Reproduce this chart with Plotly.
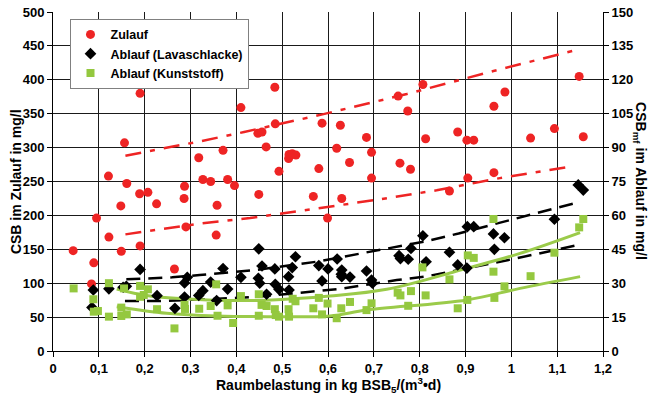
import plotly.graph_objects as go

# ---------------- data ----------------
zulauf_x = [0.044, 0.084, 0.089, 0.095, 0.121, 0.122, 0.148, 0.149, 0.156, 0.161, 0.19, 0.19,
            0.189, 0.207, 0.226, 0.265, 0.286, 0.287, 0.29, 0.318, 0.327, 0.344, 0.356, 0.358,
            0.371, 0.381, 0.396, 0.41, 0.447, 0.449, 0.456, 0.465, 0.484, 0.485, 0.493, 0.514,
            0.515, 0.522, 0.53, 0.568, 0.58, 0.587, 0.599, 0.619, 0.627, 0.63, 0.647, 0.684,
            0.695, 0.695, 0.753, 0.757, 0.774, 0.78, 0.807, 0.813, 0.865, 0.883, 0.903, 0.905,
            0.918, 0.962, 0.962, 0.986, 1.042, 1.094, 1.148, 1.157]
zulauf_y = [148, 99, 130, 196, 258, 168, 214, 147, 307, 247, 155, 380,
            232, 234, 217, 121, 225, 243, 183, 285, 253, 250, 171, 215,
            296, 253, 244, 359, 321, 231, 323, 301, 389, 335, 265, 284,
            290, 291, 289, 228, 269, 336, 196, 299, 333, 225, 278, 315,
            293, 255, 376, 277, 354, 268, 393, 313, 236, 323, 311, 255,
            311, 361, 263, 382, 314, 328, 405, 316]

lava_x = [0.088, 0.085, 0.122, 0.153, 0.16, 0.19, 0.227, 0.266, 0.287, 0.293, 0.287, 0.318,
          0.327, 0.344, 0.357, 0.371, 0.381, 0.41, 0.448, 0.451, 0.449, 0.456, 0.466, 0.484,
          0.485, 0.493, 0.514, 0.515, 0.522, 0.529, 0.58, 0.587, 0.6, 0.62, 0.63, 0.629,
          0.63, 0.648, 0.684, 0.695, 0.697, 0.755, 0.758, 0.775, 0.781, 0.807, 0.814, 0.865,
          0.883, 0.903, 0.904, 0.918, 0.961, 0.963, 0.985, 1.094, 1.146, 1.157]
lava_y = [27.0, 19.3, 27.5, 28.2, 28.6, 36.1, 24.5, 18.9, 30.1, 32.6, 23.9, 24.6,
          26.7, 30.5, 22.3, 36.5, 27.4, 32.6, 32.2, 30.0, 45.2, 37.6, 25.1, 36.3,
          29.5, 27.3, 32.9, 27.0, 36.9, 41.7, 37.8, 31.0, 36.3, 40.7, 35.8, 34.0,
          32.9, 32.7, 35.4, 31.4, 30.0, 42.2, 40.9, 40.6, 45.4, 51.0, 39.5, 43.7,
          38.1, 36.7, 55.0, 55.0, 51.8, 45.0, 50.1, 58.3, 73.5, 71.2]

kunst_x = [0.045, 0.088, 0.089, 0.098, 0.122, 0.122, 0.149, 0.149, 0.155, 0.161, 0.19, 0.19,
           0.198, 0.207, 0.227, 0.265, 0.287, 0.288, 0.319, 0.344, 0.356, 0.359, 0.381, 0.393,
           0.41, 0.449, 0.455, 0.466, 0.449, 0.484, 0.486, 0.493, 0.514, 0.515, 0.523, 0.529,
           0.568, 0.58, 0.587, 0.599, 0.619, 0.629, 0.648, 0.684, 0.695, 0.752, 0.758, 0.775,
           0.781, 0.806, 0.813, 0.865, 0.883, 0.904, 0.905, 0.918, 0.961, 0.961, 0.963, 0.985,
           1.042, 1.094, 1.148, 1.157]
kunst_y = [27.7, 22.9, 17.4, 17.7, 30.0, 15.2, 19.2, 15.5, 27.7, 16.2, 28.8, 24.0,
           24.8, 27.3, 18.5, 10.0, 20.4, 18.6, 18.7, 19.9, 29.5, 15.6, 20.2, 12.4,
           24.3, 25.1, 20.4, 19.9, 15.6, 18.5, 15.9, 15.2, 18.5, 15.2, 23.1, 22.0,
           18.9, 23.5, 16.2, 21.0, 14.5, 18.9, 21.7, 18.1, 21.1, 25.8, 24.6, 20.0,
           26.5, 37.0, 24.6, 31.7, 18.9, 22.6, 42.3, 41.2, 58.4, 35.1, 23.5, 28.6,
           33.1, 43.5, 54.7, 58.4]

# trend / band lines
red_up_x = [0.158, 0.319, 0.417, 0.588, 0.772, 0.961, 1.148]
red_up_y = [288, 309, 323, 349, 379, 413, 445]
red_lo_x = [0.158, 0.321, 0.43, 0.575, 0.706, 0.837, 0.975, 1.12]
red_lo_y = [172, 188, 196, 210, 223, 237, 255, 271]

blk_up_x = [0.16, 0.26, 0.32, 0.44, 0.575, 0.69, 0.81, 0.885, 0.997, 1.063, 1.146]
blk_up_y = [31.7, 32.6, 33.6, 35.8, 39.5, 44.0, 48.4, 52.0, 58.0, 61.6, 65.8]
blk_lo_x = [0.157, 0.233, 0.35, 0.437, 0.561, 0.623, 0.75, 0.812, 0.884, 1.011, 1.146]
blk_lo_y = [22.1, 22.1, 23.0, 23.9, 26.2, 27.4, 31.4, 32.9, 35.8, 41.0, 46.9]

grn_up_x = [0.139, 0.212, 0.35, 0.466, 0.604, 0.728, 0.903, 1.019, 1.15]
grn_up_y = [27.4, 24.3, 22.5, 22.5, 24.3, 27.3, 36.6, 43.2, 52.4]
grn_lo_x = [0.139, 0.248, 0.357, 0.466, 0.604, 0.684, 0.903, 1.019, 1.15]
grn_lo_y = [19.6, 16.7, 15.5, 15.2, 15.5, 18.1, 22.6, 27.7, 32.9]

series_names = ["Zulauf", "Ablauf (Lavaschlacke)", "Ablauf (Kunststoff)"]

# ---------------- style ----------------
RED = "#EE2424"
BLACK = "#000000"
GREEN = "#94C83F"
GREEN_LINE = "#9BCB4A"
FONT = "Liberation Sans, Arial, sans-serif"

fig = go.Figure()

# lines first (behind markers)
for xs, ys in [(red_up_x, red_up_y), (red_lo_x, red_lo_y)]:
    fig.add_trace(go.Scatter(x=xs, y=ys, mode="lines", showlegend=False, hoverinfo="skip",
                             line=dict(color=RED, width=2.5, dash="16px,9px,5px,9px"), yaxis="y"))
for xs, ys in [(blk_up_x, blk_up_y), (blk_lo_x, blk_lo_y)]:
    fig.add_trace(go.Scatter(x=xs, y=ys, mode="lines", showlegend=False, hoverinfo="skip",
                             line=dict(color=BLACK, width=2.5, dash="14px,8px"), yaxis="y2"))
for xs, ys in [(grn_up_x, grn_up_y), (grn_lo_x, grn_lo_y)]:
    fig.add_trace(go.Scatter(x=xs, y=ys, mode="lines", showlegend=False, hoverinfo="skip",
                             line=dict(color=GREEN_LINE, width=3, shape="spline"), yaxis="y2"))

fig.add_trace(go.Scatter(x=zulauf_x, y=zulauf_y, mode="markers", name="<b>" + series_names[0] + "</b>", yaxis="y",
                         marker=dict(symbol="circle", size=9, color=RED)))
fig.add_trace(go.Scatter(x=lava_x, y=lava_y, mode="markers", name="<b>" + series_names[1] + "</b>", yaxis="y2",
                         marker=dict(symbol="diamond", size=9, color=BLACK)))
fig.add_trace(go.Scatter(x=kunst_x, y=kunst_y, mode="markers", name="<b>" + series_names[2] + "</b>", yaxis="y2",
                         marker=dict(symbol="square", size=8, color=GREEN)))

tickfont = dict(family=FONT, size=13, color="black")

fig.update_layout(
    width=654, height=401,
    margin=dict(l=53, r=51, t=12, b=50),
    paper_bgcolor="white", plot_bgcolor="white",
    separators=",.",
    font=dict(family=FONT, size=13, color="black"),
    xaxis=dict(range=[0, 1.2], dtick=0.1, tick0=0, showgrid=True, gridcolor="#1a1a1a", gridwidth=1,
               zeroline=False, showline=True, linecolor="black", linewidth=1,
               ticks="outside", ticklen=5, tickcolor="black", tickfont=tickfont,
               tickprefix="<b>", ticksuffix="</b>", automargin=False),
    yaxis=dict(range=[0, 500], dtick=50, showgrid=True, gridcolor="#1a1a1a", gridwidth=1,
               zeroline=False, showline=True, linecolor="black", linewidth=1,
               ticks="outside", ticklen=5, tickcolor="black", tickfont=tickfont,
               tickprefix="<b>", ticksuffix="</b>", automargin=False),
    yaxis2=dict(range=[0, 150], dtick=15, overlaying="y", side="right", showgrid=False,
                zeroline=False, showline=True, linecolor="black", linewidth=1,
                ticks="outside", ticklen=5, tickcolor="black", tickfont=tickfont,
                tickprefix="<b>", ticksuffix="</b>", automargin=False),
    legend=dict(x=0.03, y=0.98, xanchor="left", yanchor="top",
                bgcolor="white", bordercolor="#808080", borderwidth=1,
                font=dict(family=FONT, size=12.5, color="black"),
                tracegroupgap=0, itemwidth=30),
    showlegend=True,
)

fig.add_annotation(text="<b>CSB im Zulauf in mg/l</b>", xref="paper", yref="paper",
                   x=-0.068, y=0.5, xanchor="center", yanchor="middle", textangle=-90,
                   showarrow=False, font=dict(family=FONT, size=14, color="black"))
fig.add_annotation(text="<b>CSB<sub>mf</sub> im Ablauf in mg/l</b>", xref="paper", yref="paper",
                   x=1.068, y=0.5, xanchor="center", yanchor="middle", textangle=90,
                   showarrow=False, font=dict(family=FONT, size=14, color="black"))
fig.add_annotation(text="<b>Raumbelastung in kg BSB<sub>5</sub>/(m<sup>3</sup>•d)</b>", xref="paper", yref="paper",
                   x=0.5, y=-0.1, xanchor="center", yanchor="middle",
                   showarrow=False, font=dict(family=FONT, size=14, color="black"))

fig.write_html("out.html", config={"displayModeBar": False},
               post_script="document.body.style.margin='0px';")
